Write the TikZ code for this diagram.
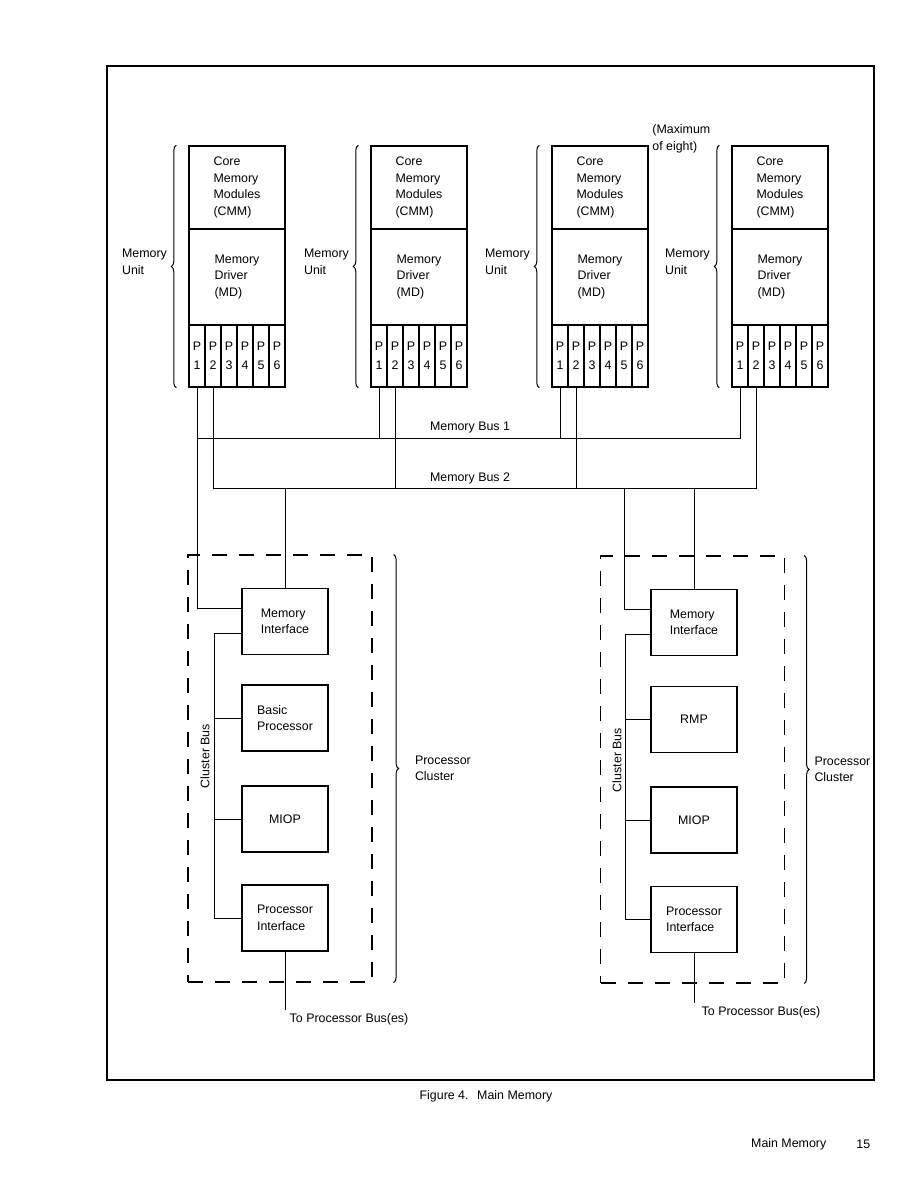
\documentclass[tikz,border=0pt]{standalone}
\usepackage{fontspec}
\setmainfont{Liberation Sans}
\usetikzlibrary{decorations.pathreplacing}

\begin{document}
\begin{tikzpicture}[x=1pt, y=-1pt, line width=0.8pt, font=\fontsize{12.4}{16.5}\selectfont,
  box/.style={draw, line width=1.4pt, align=left, inner sep=0pt},
  cmmbox/.style={box, minimum width=96pt, minimum height=83pt},
  mdbox/.style={box, minimum width=96pt, minimum height=96pt},
  pcell/.style={box, align=center, minimum width=16pt, minimum height=62pt, font=\fontsize{12.4}{19}\selectfont},
  unitbox/.style={box, minimum width=86pt, minimum height=66pt},
  clusterbox/.style={draw, dash pattern=on 15pt off 12pt, line width=1.2pt, minimum width=184pt, minimum height=427pt},
  brace/.style={decorate, decoration={brace, amplitude=5pt}, line width=1pt},
  lbl/.style={align=left, inner sep=0pt}]
\useasboundingbox (0,0) rectangle (918,1188);
\draw[line width=1.2pt] (107,66) rectangle (874,1080);

\foreach \n/\x in {1/189,2/371,3/552,4/732}{
  \node[cmmbox] (cmm\n) at (\x+48,187.5) {Core\\Memory\\Modules\\(CMM)};
  \node[mdbox] (md\n) at (\x+48,277) {Memory\\Driver\\(MD)};
  \foreach \k in {1,...,6}
    \node[pcell] (p\n-\k) at (\x+16*\k-8,356) {P\\\k};
  \draw[brace] ([xshift=-12pt]p\n-1.south west) -- ([xshift=-12pt]cmm\n.north west);
  \node[lbl, anchor=east] (mu\n) at ([xshift=-21pt, yshift=15pt]md\n.west) {Memory\\Unit};
}
\node[lbl, anchor=west] (maxn) at (652,139) {(Maximum\\of eight)};

\coordinate (bus1) at (0,438);
\coordinate (bus2) at (0,488);
\coordinate (tapb) at (624,488);
\coordinate (cbusa) at (214,0);
\coordinate (cbusb) at (625,0);
\node (mb1) at (470,428) {Memory Bus 1};
\node (mb2) at (470,478) {Memory Bus 2};

\node[clusterbox] (pca) at (280,768.5) {};
\node[unitbox] (mia) at (285,621.5) {Memory\\Interface};
\node[unitbox] (bpa) at (285,718) {Basic\\Processor};
\node[unitbox] (ioa) at (285,819) {MIOP};
\node[unitbox] (pia) at (285,918) {Processor\\Interface};
\node[rotate=90] (cla) at (205,756) {Cluster Bus};
\draw[brace] ([xshift=21pt]pca.north east) -- ([xshift=21pt]pca.south east);
\node[lbl, anchor=west] (pcla) at ([xshift=42pt]pca.east) {Processor\\Cluster};
\node[anchor=west] (toa) at (286,1019) {To Processor Bus(es)};

\node[clusterbox] (pcb) at (692.5,769.5) {};
\node[unitbox] (mib) at (694,622.5) {Memory\\Interface};
\node[unitbox] (rmp) at (694,719.5) {RMP};
\node[unitbox] (iob) at (694,820) {MIOP};
\node[unitbox] (pib) at (694,919.5) {Processor\\Interface};
\node[rotate=90] (clb) at (617,760) {Cluster Bus};
\draw[brace] ([xshift=19pt]pcb.north east) -- ([xshift=19pt]pcb.south east);
\node[lbl, anchor=west] (pclb) at ([xshift=29pt]pcb.east) {Processor\\Cluster};
\node[anchor=west] (tob) at (698,1012) {To Processor Bus(es)};

\draw (p1-1.south) |- ([yshift=13pt]mia.west);
\draw (p1-1.south |- bus1) -| (p4-1.south);
\draw (p2-1.south) -- (p2-1.south |- bus1);
\draw (p3-1.south) -- (p3-1.south |- bus1);
\draw (p1-2.south) -- (p1-2.south |- bus2) -| (p4-2.south);
\draw (p2-2.south) -- (p2-2.south |- bus2);
\draw (p3-2.south) -- (p3-2.south |- bus2);
\draw (mia.north) -- (mia.north |- bus2);
\draw (mib.north) -- (mib.north |- bus2);
\draw (tapb) |- ([yshift=13pt]mib.west);

\draw ([yshift=-12pt]mia.west) -| (cbusa |- pia.west) -- (pia.west);
\draw (bpa.west) -- (bpa.west -| cbusa);
\draw (ioa.west) -- (ioa.west -| cbusa);
\draw ([yshift=-12pt]mib.west) -| (cbusb |- pib.west) -- (pib.west);
\draw (rmp.west) -- (rmp.west -| cbusb);
\draw (iob.west) -- (iob.west -| cbusb);
\draw (pia.south) -- (pia.south |- toa.north);
\draw (pib.south) -- (pib.south |- tob.north);

\node (cap) at (486,1096) {Figure 4.\hspace{0.7em}Main Memory};
\node[anchor=east] (foot) at (830,1144) {Main Memory};
\node[anchor=east] (pageno) at (874,1144) {15};
\end{tikzpicture}
\end{document}
